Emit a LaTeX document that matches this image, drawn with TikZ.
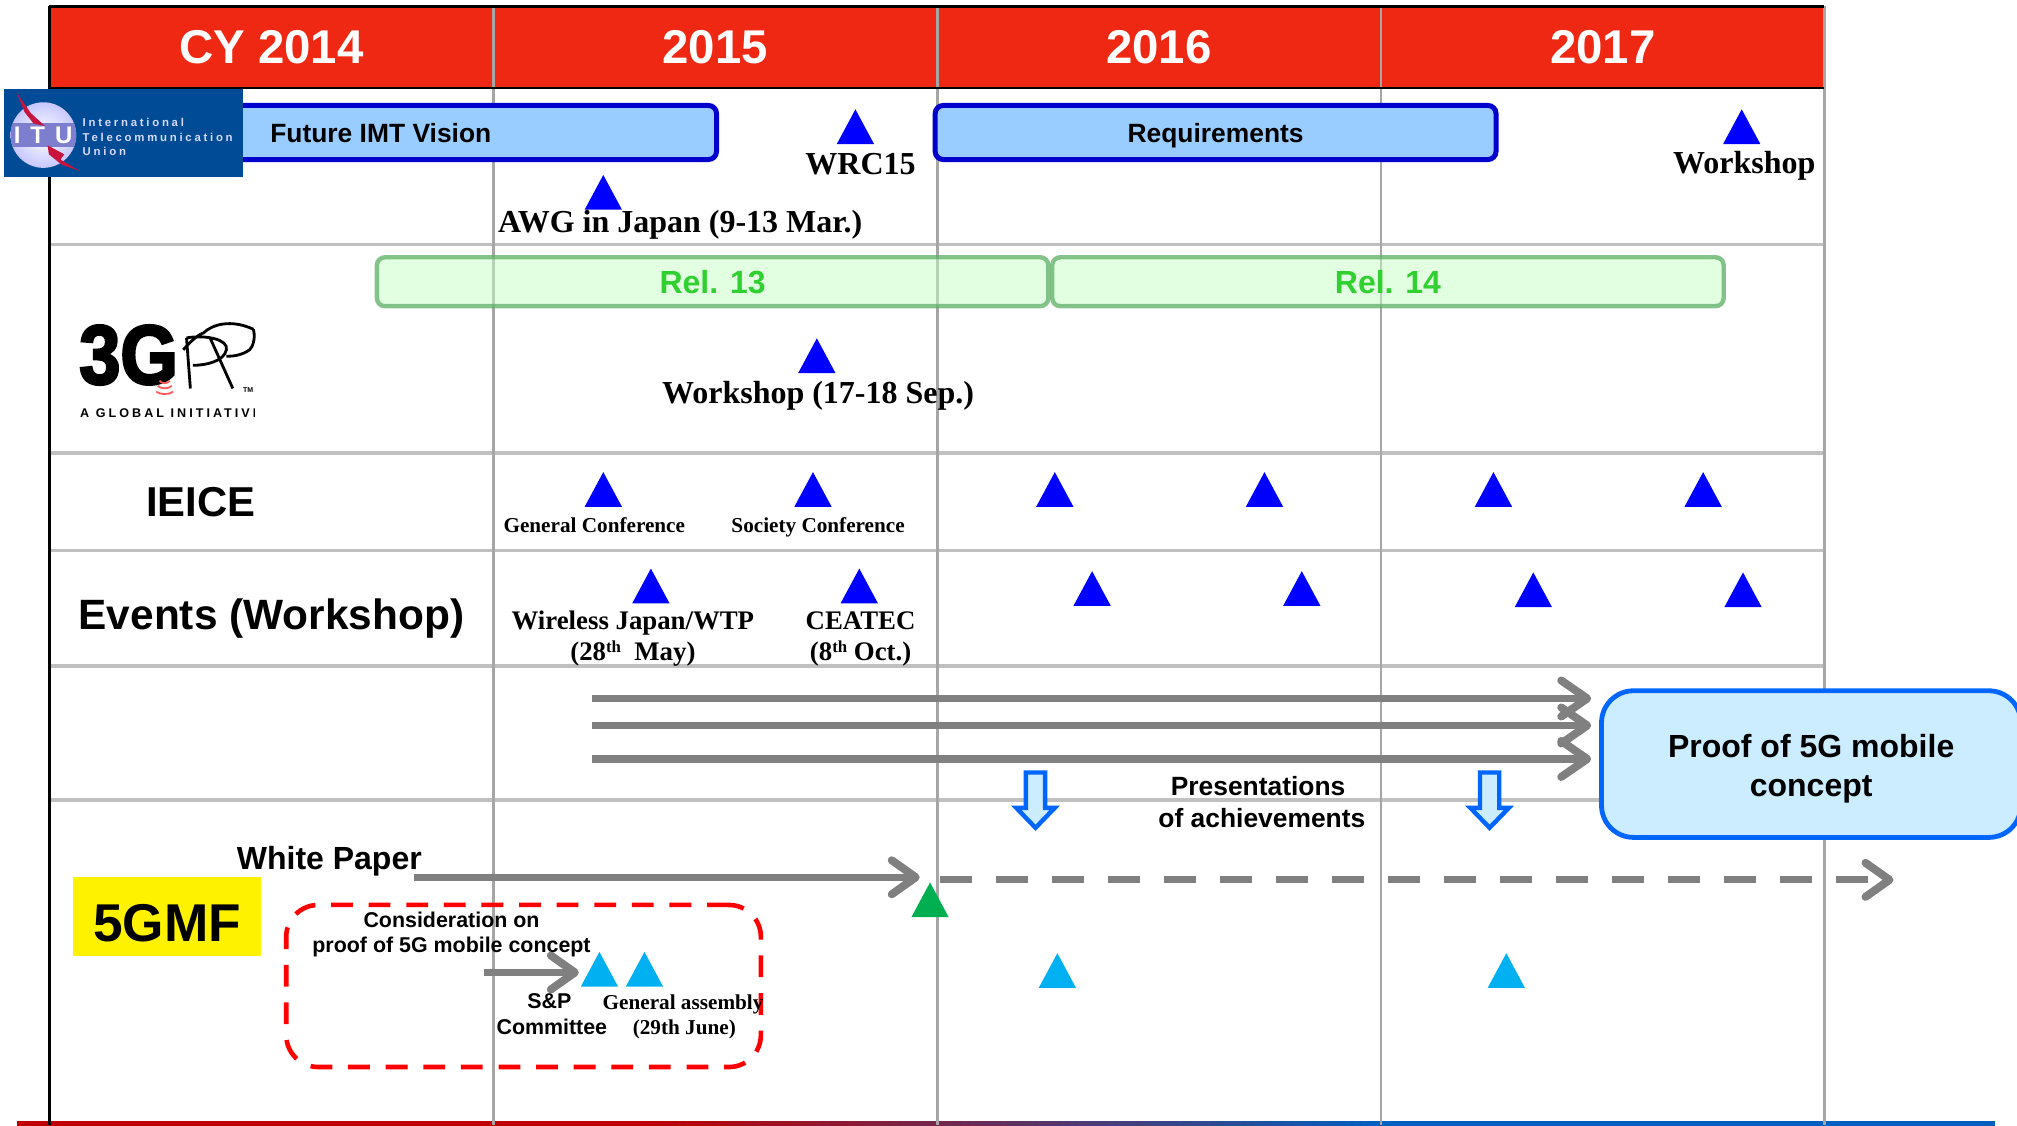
\documentclass[tikz,border=0pt]{standalone}
\usepackage{fontspec}
\setmainfont{Liberation Serif}
\setsansfont{Liberation Sans}
\newfontfamily\logofont[LetterSpace=24]{Liberation Sans}
\usetikzlibrary{arrows.meta,shapes.geometric}
\definecolor{hdr}{HTML}{EF2814}
\definecolor{arrowgray}{HTML}{808080}
\definecolor{vgrid}{HTML}{A6A6A6}
\definecolor{hgrid}{HTML}{C0C0C0}
\definecolor{itublue}{HTML}{004B96}
\definecolor{skyb}{HTML}{00B0F0}
\definecolor{lightblue}{HTML}{CCECFF}
\definecolor{edgeblue}{HTML}{0066FF}
\definecolor{barfill}{HTML}{99CCFF}
\definecolor{bardraw}{HTML}{0000CC}
\definecolor{relfill}{HTML}{C6FFC6}
\definecolor{reldraw}{HTML}{5FAE66}
\definecolor{reltext}{HTML}{2FD02F}
\definecolor{gmfgreen}{HTML}{00B050}
\definecolor{rulered}{HTML}{C00000}
\definecolor{ruleblue}{HTML}{0060C0}
\definecolor{bolt}{HTML}{C8143C}
\newcommand\U{0.6432pt}
\newcommand\sz[1]{\fontsize{#1}{#1}\selectfont}
\newcommand\supth{\raisebox{3.6pt}{\sz{8.4}th}}
\tikzset{
  x=0.6432pt,y=-0.6432pt,
  vline/.style={vgrid,line width=1.3pt},
  hline/.style={hgrid,line width=1.9pt},
  tri/.style={isosceles triangle,isosceles triangle stretches,shape border rotate=90,
     minimum width=29*\U,minimum height=27*\U,inner sep=0pt,outer sep=0pt,anchor=lower side,fill=blue},
  skytri/.style={tri,fill=skyb},
  bar/.style={rounded corners=4pt,line width=2.5pt,draw=bardraw,fill=barfill,
     inner sep=0pt,text height=10.3pt,text depth=0pt,font=\sffamily\bfseries\sz{13.2}},
  relbar/.style={rounded corners=4pt,line width=2.2pt,draw=reldraw,draw opacity=.75,fill=relfill,fill opacity=.5,text opacity=1,
     inner sep=0pt,text=reltext,font=\sffamily\bfseries\sz{16}},
  big/.style={draw=none,font=\sffamily\bfseries\sz{23.7},text=white,inner sep=0pt},
  sb/.style={font=\sffamily\bfseries,inner sep=0pt,align=center},
  tb/.style={font=\bfseries,inner sep=0pt,align=center},
  flow/.style={arrowgray,line width=3.8pt,-{Straight Barb[length=13pt,width=18pt,line width=4pt,round]}},
  smallflow/.style={arrowgray,line width=3.6pt,-{Straight Barb[length=12pt,width=17pt,line width=4pt,round]}},
  downarrow/.style={fill=lightblue,draw=edgeblue,line width=2.2pt,miter limit=10},
}
\begin{document}
\begin{tikzpicture}
\useasboundingbox (0,0) rectangle (1568,874.6);
% bottom rule with its colour fade
\fill[rulered] (13,871.5) rectangle (500.5,876);
\fill[left color=rulered,right color=ruleblue] (500,871.5) rectangle (1073,876);
\fill[ruleblue] (1072.5,871.5) rectangle (1551,876);
% header
\fill[hdr] (38,5) rectangle (1418,68);
% grid
\foreach \yy in {190,352,428,518,622} \draw[hline] (38,\yy) -- (1418,\yy);
\foreach \xx in {383.6,728.6,1073.6,1418.4} \draw[vline] (\xx,5) -- (\xx,874.6);
\draw[black,line width=1.5pt] (38.5,5) -- (38.5,874.6);
\draw[black,line width=1.6pt] (38,5) -- (1418,5);
\draw[black,line width=1.3pt] (38,68.5) -- (1418,68.5);
\node[big] (h14) at (211,37) {CY 2014};
\node[big] (h15) at (556,37) {2015};
\node[big] (h16) at (901,37) {2016};
\node[big] (h17) at (1246,37) {2017};
% ITU row
\node[bar,minimum width=522*\U,minimum height=42*\U] (imt) at (296,103) {Future IMT Vision};
\node[bar,minimum width=436*\U,minimum height=42*\U] (req) at (945,103) {Requirements};
% ITU logo
\fill[itublue] (3,69) rectangle (189,137.5);
\shade[inner color=white,outer color=blue!22!white] (33.7,105) circle (25.5);
\begin{scope}
\clip (33.7,105) circle (25.5);
\fill[blue!45!gray!70!white] (5,96) rectangle (62,114);
\end{scope}
\fill[bolt] (13,72) -- (24,88) -- (35,98) -- (26,96) -- (19,87) -- cycle;
\fill[bolt] (37,113) -- (50,120) -- (47,124) -- (62,133) -- (48,128) -- (38,120) -- cycle;
\node[text=white,inner sep=0pt,font=\sffamily\bfseries\sz{12}] (itu) at (33.5,105) {I\hspace{5pt}T\hspace{5pt}U};
\node[text=white!85!blue,inner sep=0pt,anchor=west,align=left,font=\logofont\bfseries\sz{5.7}] (itutext) at (64,105)
  {\rule{0pt}{6.2pt}International\\\rule{0pt}{6.2pt}Telecommunication\\\rule{0pt}{6.2pt}Union};
\node[tri] (awg) at (469,163) {};
\node[tb,anchor=west,font=\bfseries\sz{16}] (awgt) at (387,175) {AWG in Japan (9-13 Mar.)};
\node[tri] (wrc) at (665,112) {};
\node[tb,font=\bfseries\sz{16}] (wrct) at (669,128) {WRC15};
\node[tri] (ws17) at (1354,112) {};
\node[tb,font=\bfseries\sz{16}] (ws17t) at (1356,129) {Workshop};
% 3GPP row
\node[relbar,minimum width=522*\U,minimum height=38*\U] (r13) at (554,219) {Rel. 13};
\node[relbar,minimum width=522*\U,minimum height=38*\U] (r14) at (1079,219) {Rel. 14};
% 3GPP logo
\node[inner sep=0pt,font=\sffamily\bfseries\sz{42}] (tg) at (100,276) {\addfontfeature{FakeBold=3,FakeStretch=0.88}3G};
\draw[black,line width=1.4pt,line join=round]
  (145,262.7) -- (148,302)
  (163,262) -- (181,302)
  (145,262.7) .. controls (160,260) and (178,264) .. (176,272) .. controls (174,281) and (160,284) .. (150,284)
  (142.5,272) .. controls (148,265) and (156,259) .. (158,259) .. controls (165,252) and (180,248) .. (197,256)
  (197,256) .. controls (199,264) and (196,270) .. (194,272) .. controls (188,276) and (182,277) .. (176,277);
\foreach \ypos/\wd in {297/4,301/5.5,305.5/6.5}
  \draw[red!65,line width=0.9pt] (128-\wd,\ypos-1) .. controls (128-\wd/2,\ypos+1.5) and (128+\wd/2,\ypos+1.5) .. (128+\wd,\ypos-1);
\node[inner sep=0pt,font=\sffamily\bfseries\sz{3.5}] (tm) at (193,303) {TM};
\begin{scope}
\clip (60,312) rectangle (198,330);
\node[inner sep=0pt,anchor=west,font=\logofont\bfseries\sz{6.3}] (glob) at (62,321) {A GLOBAL INITIATIVE};
\end{scope}
\node[tri] (ws15) at (635,290) {};
\node[tb,font=\bfseries\sz{16}] (ws15t) at (636,308) {Workshop (17-18 Sep.)};
% IEICE row
\node[sb,font=\sffamily\bfseries\sz{20.9}] (ieice) at (156,390) {IEICE};
\node[tri] (ie1) at (469,394) {};
\node[tri] (ie2) at (632,394) {};
\node[tri] (ie3) at (820,394) {};
\node[tri] (ie4) at (983,394) {};
\node[tri] (ie5) at (1161,394) {};
\node[tri] (ie6) at (1324,394) {};
\node[tb,font=\bfseries\sz{10.6}] (iet1) at (462,408) {General Conference};
\node[tb,font=\bfseries\sz{10.6}] (iet2) at (636,410) {Society Conference};
% Events row
\node[sb,font=\sffamily\bfseries\sz{21.2}] (events) at (211,481) {Events (Workshop)};
\node[tri] (ev1) at (506,469) {};
\node[tri] (ev2) at (668,469) {};
\node[tri] (ev3) at (849,471) {};
\node[tri] (ev4) at (1012,471) {};
\node[tri] (ev5) at (1192,472) {};
\node[tri] (ev6) at (1355,472) {};
\node[tb,font=\bfseries\sz{13.4}] (evt1) at (492,484) {Wireless Japan/WTP};
\node[tb,font=\bfseries\sz{13.4}] (evt1b) at (492,508) {(28\supth\ \ May)};
\node[tb,font=\bfseries\sz{13.4}] (evt2) at (669,482.5) {CEATEC};
\node[tb,font=\bfseries\sz{13.4}] (evt2b) at (669,508) {(8\supth{} Oct.)};
% 5GMF flows
\node[rounded corners=16pt,line width=2.4pt,draw=edgeblue,fill=lightblue,inner sep=0pt,
  minimum width=326*\U,minimum height=114*\U,align=center,font=\sffamily\bfseries\sz{16}] (proof) at (1408,594)
  {\rule{0pt}{16pt}Proof of 5G mobile\\[3.5pt]concept};
\coordinate (f1s) at (460,543); \coordinate (f1e) at (1237,543);
\coordinate (f2s) at (460,564); \coordinate (f2e) at (1237,564);
\coordinate (f3s) at (460,590); \coordinate (f3e) at (1237,590);
\draw[flow] (f1s) -- (f1e);
\draw[flow] (f2s) -- (f2e);
\draw[flow] (f3s) -- (f3e);
\draw[downarrow] (797.5,600.5) -- (812.5,600.5) -- (812.5,628) -- (820,628) -- (805,643.5) -- (790,628) -- (797.5,628) -- cycle;
\draw[downarrow] (1150.5,600.5) -- (1165.5,600.5) -- (1165.5,628) -- (1173,628) -- (1158,643.5) -- (1143,628) -- (1150.5,628) -- cycle;
\node[sb,font=\sffamily\bfseries\sz{13.2}] (pres1) at (978,611) {Presentations};
\node[sb,font=\sffamily\bfseries\sz{13.2}] (pres2) at (981,636) {of achievements};
\node[sb,font=\sffamily\bfseries\sz{16}] (wp) at (256,669.5) {White Paper};
\node[fill=yellow,minimum width=146*\U,minimum height=61*\U,inner sep=0pt,text height=25pt,text depth=0pt,font=\sffamily\bfseries\sz{26.6}] (gmf) at (130,712.5) {5GMF};
\coordinate (wps) at (322,682); \coordinate (wpe) at (715,682);
\coordinate (dss) at (731,684); \coordinate (dse) at (1472,684);
\draw[smallflow] (wps) -- (wpe);
\draw[smallflow,dash pattern=on 16pt off 12pt] (dss) -- (dse);
\node[tri,fill=gmfgreen] (gt) at (723,713) {};
\node[draw=red,dash pattern=on 10.9pt off 7.9pt,line width=2.3pt,rounded corners=16pt,inner sep=0pt,
  minimum width=369*\U,minimum height=126*\U] (cons) at (407,766.5) {};
\node[sb,font=\sffamily\bfseries\sz{10.7}] (c1) at (351,715) {Consideration on};
\node[sb,font=\sffamily\bfseries\sz{10.7}] (c2) at (351,736) {proof of 5G mobile concept};
\node[skytri] (sk1) at (466,767) {};
\node[skytri] (sk2) at (501,767) {};
\node[skytri] (sk3) at (822,768) {};
\node[skytri] (sk4) at (1171,768) {};
\coordinate (cs) at (376,756);
\draw[smallflow] (cs) -- (450,756);
\node[sb,font=\sffamily\bfseries\sz{10.7}] (sp1) at (427,778) {S\&P};
\node[sb,font=\sffamily\bfseries\sz{10.7}] (sp2) at (429,798) {Committee};
\node[tb,font=\bfseries\sz{10.6}] (ga1) at (531,780.5) {General assembly};
\node[tb,font=\bfseries\sz{10.6}] (ga2) at (532,800.5) {(29th June)};
\end{tikzpicture}
\end{document}
